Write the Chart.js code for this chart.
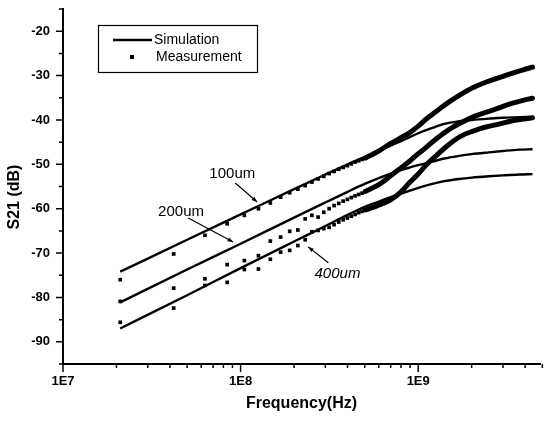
<!DOCTYPE html>
<html>
<head>
<meta charset="utf-8">
<script src="https://cdn.jsdelivr.net/npm/chart.js@4.4.1/dist/chart.umd.min.js"></script>
<style>
  html, body { margin: 0; padding: 0; background: #fff; }
</style>
</head>
<body>
<canvas id="chart" width="544" height="421"></canvas>
<script>
// simulation curves (Hz, dB)
const simFreq = [2.1e7, 5e7, 1e8, 2e8, 3e8, 4e8, 5e8, 6e8, 7e8, 8e8, 9e8, 1e9, 1.2e9, 1.4e9, 1.7e9, 2e9, 2.5e9, 3e9, 3.7e9, 4.4e9];
const sim100 = [-74.2, -67.0, -61.3, -55.6, -52.3, -50.0, -48.3, -46.9, -45.8, -44.8, -43.8, -43.0, -41.8, -40.9, -40.3, -40.0, -39.7, -39.5, -39.4, -39.3];
const sim200 = [-81.1, -73.7, -67.9, -62.0, -58.6, -56.2, -54.4, -53.1, -52.1, -51.3, -50.7, -50.2, -49.4, -48.7, -48.1, -47.7, -47.3, -47.0, -46.7, -46.6];
const sim400 = [-87.0, -79.5, -73.4, -67.4, -63.9, -61.4, -59.6, -58.4, -57.4, -56.6, -55.9, -55.3, -54.4, -53.8, -53.3, -53.0, -52.7, -52.5, -52.3, -52.2];

// measured points, low frequency part (separate squares)
const measFreq = [2.1e7, 4.2e7, 6.3e7, 8.4e7, 1.05e8, 1.26e8, 1.47e8, 1.68e8, 1.89e8, 2.1e8, 2.31e8, 2.52e8,
                  2.73e8, 2.94e8, 3.15e8, 3.36e8, 3.57e8, 3.78e8, 3.99e8, 4.2e8, 4.41e8, 4.62e8, 4.83e8, 5.04e8];
const meas100 = [-76.0, -70.2, -66.0, -63.4, -61.5, -60.0, -58.7, -57.4, -56.4, -55.6, -54.8, -54.0,
                 -53.3, -52.7, -52.1, -51.6, -51.1, -50.7, -50.3, -49.9, -49.5, -49.2, -48.9, -48.6];
const meas200 = [-80.9, -77.9, -75.8, -72.6, -71.7, -70.6, -67.3, -66.4, -65.1, -64.8, -62.3, -61.5,
                 -61.9, -60.8, -60.0, -59.3, -58.8, -58.3, -57.9, -57.5, -57.1, -56.8, -56.5, -56.1];
const meas400 = [-85.6, -82.4, -77.3, -76.6, -73.7, -73.6, -71.4, -69.8, -69.4, -68.3, -67.0, -65.2,
                 -64.9, -64.5, -64.2, -63.6, -63.0, -62.5, -62.1, -61.7, -61.3, -60.9, -60.6, -60.3];

// measured points, high frequency part (so dense they merge into a thick trace)
const denseFreq = [5.04e8, 6e8, 7e8, 8e8, 9e8, 1e9, 1.1e9, 1.25e9, 1.46e9, 1.73e9, 2.04e9, 2.4e9, 2.8e9, 3.3e9, 3.9e9, 4.4e9];
const dense100 = [-48.6, -47.0, -45.3, -44.0, -42.8, -41.4, -39.9, -38.2, -36.2, -34.3, -32.7, -31.5, -30.6, -29.6, -28.7, -28.1];
const dense200 = [-56.1, -54.6, -52.6, -50.8, -49.2, -47.6, -46.3, -44.4, -42.4, -40.7, -39.3, -38.3, -37.4, -36.4, -35.6, -35.1];
const dense400 = [-60.3, -59.2, -58.0, -56.2, -54.0, -52.2, -50.3, -48.2, -45.8, -43.7, -42.5, -41.6, -41.0, -40.3, -39.8, -39.5];

// axis ticks
const xTicks = [1e7, 2e7, 3e7, 4e7, 5e7, 6e7, 7e7, 8e7, 9e7,
                1e8, 2e8, 3e8, 4e8, 5e8, 6e8, 7e8, 8e8, 9e8,
                1e9, 2e9, 3e9, 4e9, 5e9];
const xMajor = [1e7, 1e8, 1e9];
const xLabels = ['1E7', '1E8', '1E9'];

// labels with arrows, in data coordinates
const notes = [
  { text: '100um', at: [8.98e7, -52.2], from: [9.33e7, -54.2], to: [1.24e8, -58.5], italic: false },
  { text: '200um', at: [4.62e7, -60.7], from: [5.07e7, -62.1], to: [9.08e7, -67.5], italic: false },
  { text: '400um', at: [3.51e8, -74.7], from: [3.12e8, -72.2], to: [2.40e8, -68.6], italic: true }
];

const FONT = '"Liberation Sans", Arial, sans-serif';

function pts(xs, ys) {
  return xs.map((x, i) => ({ x: x, y: ys[i] }));
}

function simLine(data) {
  return { type: 'line', data: data, borderColor: '#000', borderWidth: 2.4, pointRadius: 0,
           cubicInterpolationMode: 'monotone', fill: false };
}
function measDots(data) {
  return { type: 'scatter', data: data, backgroundColor: '#000', borderColor: '#000', borderWidth: 0,
           pointStyle: 'rect', pointRadius: 2.6, showLine: false };
}
function measDense(data) {
  return { type: 'line', data: data, borderColor: '#000', borderWidth: 5, pointRadius: 0,
           cubicInterpolationMode: 'monotone', fill: false, borderCapStyle: 'round' };
}

const tickMarks = {
  id: 'tickMarks',
  afterDraw(chart) {
    const ctx = chart.ctx;
    const xs = chart.scales.x, ys = chart.scales.y;
    ctx.save();
    ctx.strokeStyle = '#000';
    ctx.lineWidth = 1.5;
    ctx.beginPath();
    xs.ticks.forEach(t => {
      const px = xs.getPixelForValue(t.value);
      const len = xMajor.includes(t.value) ? 8 : 4;
      ctx.moveTo(px, xs.top);
      ctx.lineTo(px, xs.top + len);
    });
    ys.ticks.forEach(t => {
      const py = ys.getPixelForValue(t.value);
      const len = t.value % 10 === 0 ? 7 : 4;
      ctx.moveTo(ys.right, py);
      ctx.lineTo(ys.right - len, py);
    });
    ctx.stroke();
    // y axis title, a little below the middle as in the original
    ctx.fillStyle = '#000';
    ctx.font = 'bold 16px ' + FONT;
    ctx.textAlign = 'center';
    ctx.textBaseline = 'middle';
    ctx.translate(15, 197);
    ctx.rotate(-Math.PI / 2);
    ctx.fillText('S21 (dB)', 0, 0);
    ctx.restore();
  }
};

const notesPlugin = {
  id: 'notes',
  afterDatasetsDraw(chart) {
    const ctx = chart.ctx;
    const xs = chart.scales.x, ys = chart.scales.y;
    ctx.save();
    ctx.fillStyle = '#000';
    ctx.strokeStyle = '#000';
    notes.forEach(n => {
      ctx.font = (n.italic ? 'italic ' : '') + '15px ' + FONT;
      ctx.textAlign = 'center';
      ctx.textBaseline = 'middle';
      ctx.fillText(n.text, xs.getPixelForValue(n.at[0]), ys.getPixelForValue(n.at[1]));
      const x1 = xs.getPixelForValue(n.from[0]), y1 = ys.getPixelForValue(n.from[1]);
      const x2 = xs.getPixelForValue(n.to[0]), y2 = ys.getPixelForValue(n.to[1]);
      ctx.lineWidth = 1.2;
      ctx.beginPath();
      ctx.moveTo(x1, y1);
      ctx.lineTo(x2, y2);
      ctx.stroke();
      const a = Math.atan2(y2 - y1, x2 - x1);
      ctx.beginPath();
      ctx.moveTo(x2, y2);
      ctx.lineTo(x2 - 6 * Math.cos(a - 0.35), y2 - 6 * Math.sin(a - 0.35));
      ctx.lineTo(x2 - 6 * Math.cos(a + 0.35), y2 - 6 * Math.sin(a + 0.35));
      ctx.closePath();
      ctx.fill();
    });
    ctx.restore();
  }
};

// boxed legend in the upper left of the plot
const legendBox = {
  id: 'legendBox',
  afterDraw(chart) {
    const ctx = chart.ctx;
    ctx.save();
    ctx.strokeStyle = '#000';
    ctx.lineWidth = 1.2;
    ctx.strokeRect(98.5, 25.5, 159, 47);
    ctx.lineWidth = 2.5;
    ctx.beginPath();
    ctx.moveTo(113, 40);
    ctx.lineTo(152, 40);
    ctx.stroke();
    ctx.fillStyle = '#000';
    ctx.fillRect(130, 55, 4, 4);
    ctx.font = '14px ' + FONT;
    ctx.textAlign = 'left';
    ctx.textBaseline = 'middle';
    ctx.fillText('Simulation', 154, 40);
    ctx.fillText('Measurement', 156, 57);
    ctx.restore();
  }
};

new Chart(document.getElementById('chart'), {
  type: 'scatter',
  data: {
    datasets: [
      simLine(pts(simFreq, sim100)),
      simLine(pts(simFreq, sim200)),
      simLine(pts(simFreq, sim400)),
      measDots(pts(measFreq, meas100)),
      measDots(pts(measFreq, meas200)),
      measDots(pts(measFreq, meas400)),
      measDense(pts(denseFreq, dense100)),
      measDense(pts(denseFreq, dense200)),
      measDense(pts(denseFreq, dense400))
    ]
  },
  options: {
    responsive: false,
    animation: false,
    devicePixelRatio: 1,
    layout: { padding: { top: 9, right: 0, bottom: 0, left: 0 } },
    plugins: { legend: { display: false }, tooltip: { enabled: false } },
    scales: {
      x: {
        type: 'logarithmic',
        bounds: 'data',
        min: 1e7,
        max: 4.85e9,
        afterBuildTicks: s => { s.ticks = xTicks.map(v => ({ value: v })); },
        afterFit: s => { s.height = 57; s.paddingLeft = 0; s.paddingRight = 0; },
        grid: { display: false, drawTicks: false },
        border: { display: true, color: '#000', width: 2 },
        ticks: {
          autoSkip: false, maxRotation: 0, padding: 10, color: '#000',
          font: { family: FONT, size: 13, weight: 'bold' },
          callback: v => { const i = xMajor.indexOf(v); return i >= 0 ? xLabels[i] : ''; }
        },
        title: { display: true, text: 'Frequency(Hz)', color: '#000',
                 font: { family: FONT, size: 16, weight: 'bold' }, padding: { top: 4, bottom: 8 } }
      },
      y: {
        min: -95,
        max: -15,
        afterFit: s => { s.width = 63; s.paddingTop = 0; s.paddingBottom = 0; },
        grid: { display: false, drawTicks: false },
        border: { display: true, color: '#000', width: 2 },
        ticks: {
          stepSize: 5, autoSkip: false, padding: 13, color: '#000',
          font: { family: FONT, size: 13, weight: 'bold' },
          callback: v => (v % 10 === 0 && v >= -90 && v <= -20) ? String(v) : ''
        }
      }
    }
  },
  plugins: [tickMarks, notesPlugin, legendBox]
});
</script>
</body>
</html>
